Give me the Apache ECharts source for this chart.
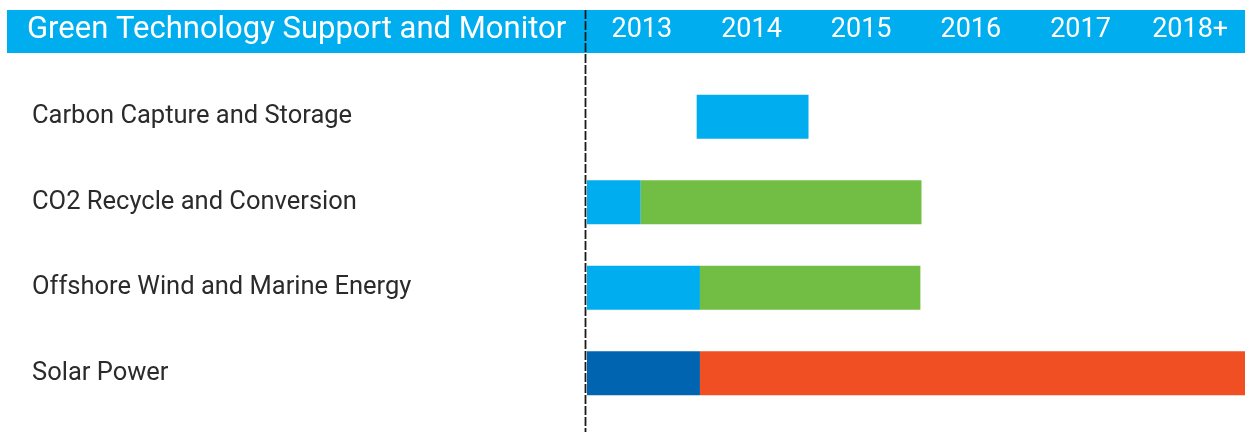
<!DOCTYPE html>
<html>
<head>
<meta charset="utf-8">
<script src="https://cdn.jsdelivr.net/npm/echarts@6/dist/echarts.min.js"></script>
<style>
    html, body { margin: 0; padding: 0; background: #fff; }
    #chart { width: 1245px; height: 432px; }
</style>
</head>
<body>
<div id="chart"></div>
<script>
const title = "Green Technology Support and Monitor";
const years = ["2013", "2014", "2015", "2016", "2017", "2018+"];
const technologies = [
    "Carbon Capture and Storage",
    "CO2 Recycle and Conversion",
    "Offshore Wind and Marine Energy",
    "Solar Power"
];

// years from 2013 before each bar starts, then the length of each coloured phase
const startOffset = [1.0, 0, 0, 0];
const bluePhase = [1.02, 0.49, 1.03, 0];
const darkBluePhase = [0, 0, 0, 1.03];
const greenPhase = [0, 2.56, 2.01, 0];
const orangePhase = [0, 0, 0, 4.97];

const chart = echarts.init(document.getElementById("chart"));

function phase(name, data, color) {
    return {
        name: name,
        type: "bar",
        stack: "timeline",
        data: data,
        barWidth: 44,
        itemStyle: { color: color },
        emphasis: { disabled: true }
    };
}

chart.setOption({
    animation: false,
    title: {
        text: title,
        left: 22,
        top: 10,
        textStyle: {
            color: "#fff",
            fontFamily: "Roboto",
            fontSize: 31,
            fontWeight: "normal"
        }
    },
    graphic: [
        {
            type: "rect",
            z: -1,
            shape: { x: 7, y: 10, width: 1238, height: 43 },
            style: { fill: "#00AEEF" }
        },
        {
            type: "line",
            z: 100,
            shape: { x1: 585.5, y1: 10, x2: 585.5, y2: 432 },
            style: { stroke: "#1a1a1a", lineWidth: 1.8, lineDash: [9, 2] }
        }
    ],
    grid: {
        left: 587,
        right: 0,
        top: 74,
        bottom: 16
    },
    xAxis: [
        {
            type: "value",
            min: 0,
            max: 6,
            show: false
        },
        {
            type: "category",
            data: years,
            position: "top",
            boundaryGap: true,
            axisLine: { show: false },
            axisTick: { show: false },
            splitLine: { show: false },
            axisLabel: {
                color: "#fff",
                fontFamily: "Roboto",
                fontSize: 27,
                margin: 30
            }
        }
    ],
    yAxis: {
        type: "category",
        data: technologies,
        inverse: true,
        axisLine: { show: false },
        axisTick: { show: false },
        splitLine: { show: false },
        axisLabel: {
            align: "left",
            margin: 555,
            color: "#2b2b2b",
            fontFamily: "Roboto",
            fontSize: 25.5
        }
    },
    series: [
        {
            name: "offset",
            type: "bar",
            stack: "timeline",
            data: startOffset,
            barWidth: 44,
            itemStyle: { color: "transparent" },
            emphasis: { disabled: true },
            silent: true
        },
        phase("Blue", bluePhase, "#00AEEF"),
        phase("Dark Blue", darkBluePhase, "#0064B0"),
        phase("Green", greenPhase, "#72BE44"),
        phase("Orange", orangePhase, "#F04E23")
    ]
});
</script>
</body>
</html>
